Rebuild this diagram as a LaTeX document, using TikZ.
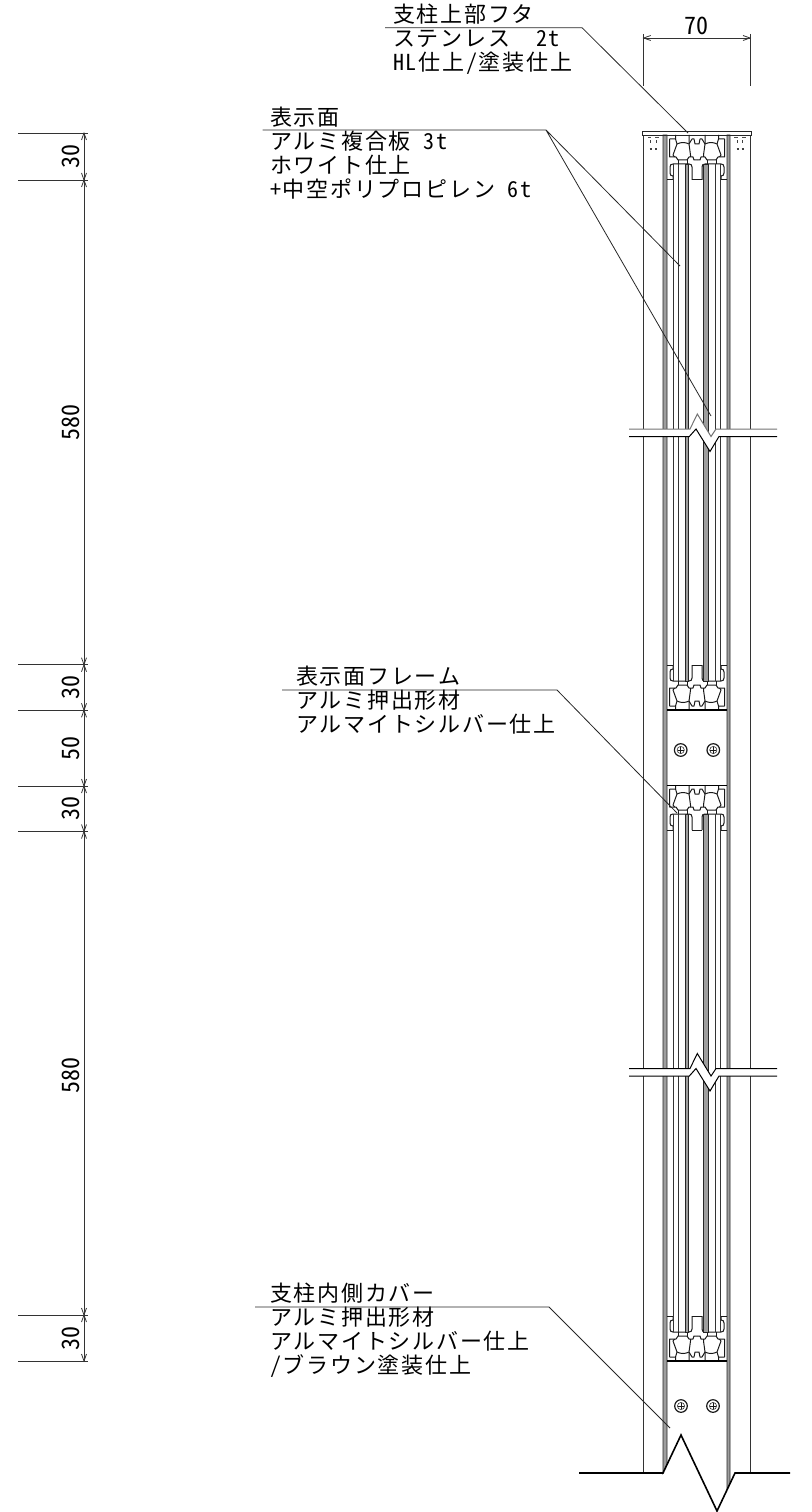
\documentclass[tikz,border=0pt]{standalone}
\usepackage{fontspec}
\setmainfont{Liberation Sans}
\newfontfamily\jpfont[RawFeature=+hwid,LetterSpace=8]{Noto Sans CJK JP}
\newfontfamily\dimfont[RawFeature=+hwid]{Noto Sans CJK JP}
\tikzset{
  lab/.style={anchor=north west,inner sep=0pt,align=left,font=\fontsize{22bp}{24bp}\selectfont\jpfont},
  dimtext/.style={inner sep=0pt,font=\fontsize{24bp}{24bp}\selectfont\dimfont},
  thin line/.style={line width=0.8bp,draw=black!80},
  leader/.style={line width=0.8bp,draw=black!85},
  prof/.style={line width=1bp,draw=black!90,line join=round},
  wall/.style={line width=1bp,draw=black!80},
  band/.style={line width=0.8bp,draw=black!85,fill=black!38},
  heavy/.style={line width=1.6bp,draw=black,line join=miter}
}
\newcommand{\halfprofile}{%
  \draw[prof] (-21.5,0)--(-21.5,4) (-27.5,4)--(-21.5,4)--(-20,9)--(-24,20)--(-22.5,22);
  \draw[prof] (-27.5,4)--(-27.5,22)--(-21,22)--(-19,25)--(-10,25)--(-8,22)--(-4,22)--(-3,25)--(0,25);
  \draw[prof] (-20,9) .. controls (-16,7) and (-12,7) .. (-8,9);
  \draw[prof] (-8,0)--(-8,9)--(-6.5,20)--(-6.5,22);
  \draw[prof] (-8,9)--(-5,4)--(-3,4)--(-2,9)--(0,9);
  \draw[prof] (-19,25)--(-19,29) (-10,25)--(-10,29);
  \draw[prof] (-5,45)--(-5,32) .. controls (-5,30) and (-6,29) .. (-8,29)--(-24,29)
     .. controls (-26,29) and (-27,30) .. (-27,32)--(-27,38)
     .. controls (-27,40) and (-26,41) .. (-24,41)--(-24,45);
  \draw[prof] (-30,45)--(-24,45) (-5,45)--(0,45);
}
\newcommand{\frameat}[2]{%
  \begin{scope}[shift={(697,#1)},yscale=#2]
    \halfprofile
    \begin{scope}[xscale=-1]\halfprofile\end{scope}
  \end{scope}}
\newcommand{\panelfrom}[2]{%
  \draw[wall] (673.5,#1)--(673.5,#2) (678.5,#1)--(678.5,#2) (715,#1)--(715,#2) (720,#1)--(720,#2);
  \filldraw[band] (685.5,#1) rectangle (688.5,#2);
  \filldraw[band] (703.5,#1) rectangle (708,#2);}
\newcommand{\screwat}[2]{%
  \draw[line width=1.2bp,draw=black!90] (#1,#2) circle (6.3);
  \draw[line width=0.6bp,draw=black!80] (#1,#2) circle (3.6);
  \draw[line width=1bp,draw=black!90] (#1-3,#2)--(#1+3,#2) (#1,#2-3)--(#1,#2+3);}
\newcommand{\breakat}[2][black]{%
  \fill[white] (629,#2) -- (690,#2) -- (697.3,#2-15) -- (711,#2+7.5) -- (716,#2) -- (777,#2) -- (777,#2+7.5)
     -- (719,#2+7.5) -- (710,#2+22.5) -- (696,#2) -- (689.3,#2+7.5) -- (629,#2+7.5) -- cycle;
  \draw[line width=1bp,draw=#1] (629,#2) -- (690,#2) -- (697.3,#2-15) -- (711,#2+7.5) -- (716,#2) -- (777,#2);
  \draw[line width=1bp,draw=black] (629,#2+7.5) -- (689.3,#2+7.5) -- (696,#2) -- (710,#2+22.5) -- (719,#2+7.5) -- (777,#2+7.5);}
\newcommand{\arrup}[1]{\draw[thin line] (81.5,#1-7)--(84,#1)--(86.5,#1-7);}
\newcommand{\arrdn}[1]{\draw[thin line] (81.5,#1+7)--(84,#1)--(86.5,#1+7);}
\newcommand{\ext}[1]{\draw[thin line] (18,#1)--(88,#1);}
\begin{document}
\begin{tikzpicture}[x=1bp,y=-1bp]
\useasboundingbox (0,0) rectangle (811,1512);
% walls
\draw[wall] (643.5,135)--(643.5,1473) (750,135)--(750,1473);
\filldraw[band] (663,135)--(663,1473)--(667,1464.5)--(667,135)--cycle;
\filldraw[band] (727,135)--(727,1490)--(730,1483.5)--(730,135)--cycle;
% cap
\draw[line width=0.9bp,draw=black!85] (642.5,131.7)--(751,131.7)--(751,135)--(642.5,135)--cycle;
\draw[line width=0.9bp,draw=black!70] (648,137)--(651,137) (655,137)--(659,137) (734,137)--(738,137) (742,137)--(746,137);
\foreach \xx in {650.5,656,737.5,742.5}{
  \draw[line width=0.9bp,draw=black!75] (\xx,140.5)--(\xx,143.5);
  \draw[line width=1.1bp,draw=black!75] (\xx-1,149)--(\xx+1,149);
}
% frames
\frameat{135}{1}
\frameat{710}{-1}
\frameat{785}{1}
\frameat{1361}{-1}
\draw[line width=1.2bp] (667,710)--(727,710) (667,785.5)--(727,785.5) (667,1361)--(727,1361);
% panels
\panelfrom{164}{681}
\panelfrom{814}{1332}
% screws
\screwat{680.7}{750}
\screwat{713.3}{750}
\screwat{681}{1406}
\screwat{713}{1406}
% breaks
\breakat[black!55]{429}
\breakat{1068.5}
% bottom break line
\fill[white] (663.5,1473)--(681,1435)--(717,1511)--(735,1473)--(735,1512)--(663.5,1512)--cycle;
\draw[heavy] (579,1473)--(663,1473)--(681,1435)--(717,1511)--(735,1473)--(790,1473);
% texts
\node[lab] (capt) at (393,4) {支柱上部フタ\\ステンレス\hspace{26bp}2t\\HL仕上/塗装仕上};
\node[lab] (face) at (270,107) {表示面\\アルミ複合板 3t\\ホワイト仕上\\+中空ポリプロピレン 6t};
\node[lab] (fram) at (296,666) {表示面フレーム\\アルミ押出形材\\アルマイトシルバー仕上};
\node[lab] (cove) at (270,1283) {支柱内側カバー\\アルミ押出形材\\アルマイトシルバー仕上\\/ブラウン塗装仕上};
% leaders
\coordinate (u1a) at (385,27.7); \coordinate (u1b) at (582,27.7); \coordinate (t1) at (688,133);
\coordinate (u2a) at (262.5,130); \coordinate (u2b) at (546,130); \coordinate (t2) at (680,266); \coordinate (t3) at (711,416);
\coordinate (u3a) at (282,690); \coordinate (u3b) at (557,690); \coordinate (t4) at (677,813);
\coordinate (u4a) at (255,1307); \coordinate (u4b) at (549,1307); \coordinate (t5) at (670,1428);
\draw[leader] (u1a)--(u1b)--(t1);
\draw[leader] (u2a)--(u2b)--(t2) (u2b)--(t3);
\draw[leader] (u3a)--(u3b)--(t4);
\draw[leader] (u4a)--(u4b)--(t5);
% dimension 70
\draw[thin line] (643.7,34)--(643.7,86) (750,34)--(750,86);
\coordinate (d70a) at (643.7,38); \coordinate (d70b) at (750,38);
\draw[thin line] (d70a)--(d70b);
\draw[thin line] (650.7,35.5)--(643.7,38)--(650.7,40.5) (743,35.5)--(750,38)--(743,40.5);
\node[dimtext] (n70) at (696.5,26) {70};
% left dimensions
\coordinate (dt) at (84,133); \coordinate (db) at (84,1361.5);
\draw[thin line] (dt)--(db);
\ext{133}\ext{180}\ext{664.7}\ext{710.3}\ext{786}\ext{831.5}\ext{1315}\ext{1361}
\arrdn{133}
\foreach \yy in {180,664.7,710.3,786,831.5,1315}{\arrup{\yy}\arrdn{\yy}}
\arrup{1361}
\foreach \yy/\tt/\nm in {157/30/a,422/580/b,687/30/c,748/50/d,808/30/e,1075/580/f,1338/30/g}{
  \node[dimtext,rotate=90] (dim\nm) at (71,\yy) {\tt};
}
\end{tikzpicture}
\end{document}
